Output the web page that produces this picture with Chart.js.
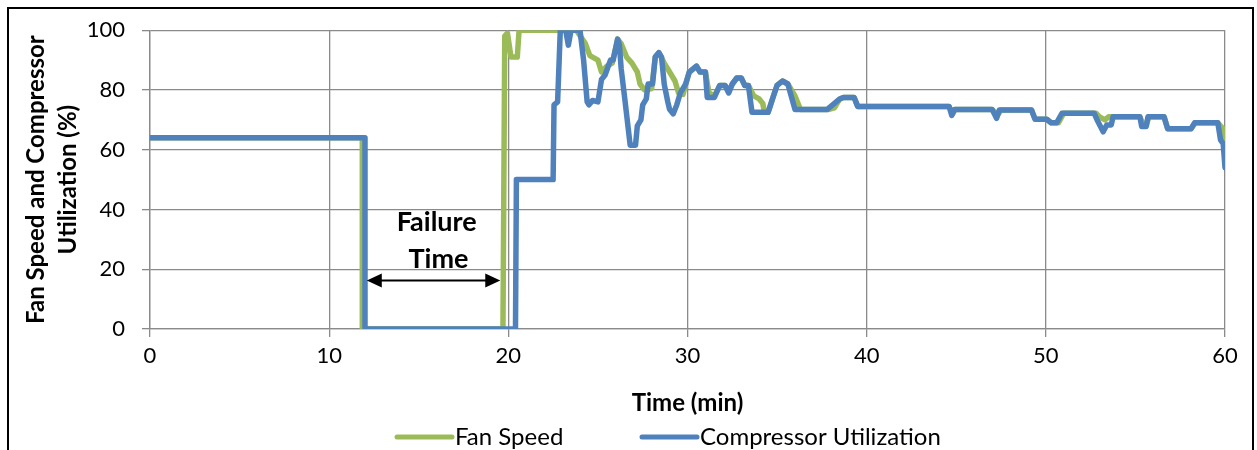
<!DOCTYPE html>
<html>
<head>
<meta charset="utf-8">
<script src="https://cdn.jsdelivr.net/npm/chart.js@4.4.1/dist/chart.umd.min.js"></script>
<style>
  html, body { margin: 0; padding: 0; background: #fff; }
  #wrap { width: 1257px; height: 450px; position: relative; }
</style>
</head>
<body>
<div id="wrap"><canvas id="chart" width="1257" height="450"></canvas></div>
<script>
// time (min) and value (%) pairs
const fanTime = [0, 11.85, 11.85, 19.7, 19.8, 19.95, 20.15, 20.5, 20.6, 23.8, 24.3, 24.55, 25.0, 25.2, 25.5, 25.8, 26.1, 26.3, 26.6, 26.9,
  27.2, 27.35, 27.6, 28.0, 28.2, 28.4, 28.7, 29.0, 29.3, 29.5, 29.75, 29.9, 30.1, 30.5, 30.7, 31.0, 31.2, 31.5, 31.8, 32.1,
  32.3, 32.5, 32.75, 33.0, 33.2, 33.4, 33.7, 34.0, 34.2, 34.3, 34.5, 34.8, 35.0, 35.3, 35.6, 36.0, 36.3, 37.9, 38.2, 38.5,
  38.7, 39.3, 39.5, 44.6, 44.8, 44.95, 47.0, 47.3, 47.5, 49.2, 49.4, 50.05, 50.3, 50.7, 51.0, 52.8, 53.0, 53.3, 53.5, 55.25,
  55.4, 55.6, 55.75, 56.6, 56.8, 58.1, 58.35, 59.6, 59.9, 60];
const fanSpeed = [64, 64, 0, 0, 98, 99, 91, 91, 100, 100, 95.5, 91.5, 90, 86, 88, 89, 97, 95.5, 91, 89,
  86, 82, 80, 80.5, 91, 92.5, 89, 86, 83, 79, 78.5, 82, 86, 88, 86, 86, 79, 78, 81.5, 81.5,
  79.5, 82, 84, 84, 81.5, 81.5, 78, 77, 75.5, 72.5, 72.5, 78, 81.5, 83, 82, 78, 73.5, 73.5, 74, 77,
  77.5, 77.5, 74.5, 74.5, 72, 73.5, 73.5, 71.5, 73.3, 73.3, 70.2, 70.2, 69, 69, 72.2, 72.2, 71, 70, 71, 71,
  69, 68, 71, 71, 67, 67, 69, 69, 67, 63];

const compTime = [0, 12.0, 12.0, 20.4, 20.45, 22.5, 22.55, 22.75, 22.9, 23.2, 23.35, 23.5, 24.0, 24.2, 24.4, 24.5, 24.7, 25.0, 25.2, 25.4,
  25.7, 25.85, 26.1, 26.2, 26.3, 26.5, 26.8, 27.1, 27.2, 27.4, 27.5, 27.7, 27.8, 28.05, 28.2, 28.4, 28.55, 28.7, 28.9, 29.0,
  29.2, 29.4, 29.6, 29.9, 30.1, 30.5, 30.7, 31.0, 31.1, 31.5, 31.8, 32.1, 32.3, 32.5, 32.75, 33.0, 33.2, 33.4, 33.6, 34.5,
  34.8, 35.0, 35.3, 35.6, 36.0, 37.8, 38.1, 38.5, 38.7, 39.3, 39.5, 44.6, 44.75, 44.9, 47.0, 47.25, 47.4, 49.2, 49.4, 50.05,
  50.3, 50.6, 50.9, 52.7, 52.9, 53.2, 53.4, 53.65, 53.75, 55.25, 55.35, 55.6, 55.7, 56.6, 56.8, 58.1, 58.3, 59.6, 59.75, 59.9, 60];
const compUtil = [64, 64, 0, 0, 50, 50, 75, 76, 100, 100, 95, 100, 100, 90, 76, 75, 76.5, 76, 83.5, 85,
  90, 90, 97, 95, 87, 77, 61.5, 61.5, 68, 70, 75, 77, 82, 82, 91, 92.5, 91, 82, 76, 73.5,
  72, 75, 79, 82, 86, 88, 86, 86, 77.5, 77.5, 81.5, 81.5, 79, 82, 84, 84, 81.5, 81.5, 72.5, 72.5,
  78, 81.5, 83, 82, 73.5, 73.5, 75, 77, 77.5, 77.5, 74.5, 74.5, 71.5, 73.5, 73.5, 70.5, 73.3, 73.3, 70.2, 70.2,
  69, 69, 72.2, 72.2, 69.5, 66, 68.3, 68.3, 71, 71, 67.8, 67.8, 71, 71, 67, 67, 69, 69, 63.3, 62, 54];

const seriesNames = ['Fan Speed', 'Compressor Utilization'];
const seriesColors = ['#9BBB59', '#4F81BD'];
const yTitle = ['Fan Speed and Compressor', 'Utilization (%)'];
const xTitle = 'Time (min)';
const failureLabel = ['Failure', 'Time'];

const FONT = 'Lato, "Open Sans", sans-serif';
const GRID = '#8a8a8a';

function toPoints(xs, ys) {
  return xs.map((x, i) => ({ x: x, y: ys[i] }));
}

// arrow + "Failure Time" note, placed in data units
const failurePlugin = {
  id: 'failure',
  afterDatasetsDraw(chart) {
    const x = chart.scales.x, y = chart.scales.y, ctx = chart.ctx;
    ctx.save();
    ctx.fillStyle = '#000';
    ctx.font = 'bold 27px ' + FONT;
    ctx.textAlign = 'center';
    ctx.textBaseline = 'alphabetic';
    ctx.fillText(failureLabel[0], x.getPixelForValue(16.0), y.getPixelForValue(32.8));
    ctx.fillText(failureLabel[1], x.getPixelForValue(16.1), y.getPixelForValue(20.3));

    const x0 = x.getPixelForValue(12.1), x1 = x.getPixelForValue(19.55), ay = y.getPixelForValue(16.2);
    ctx.strokeStyle = '#000';
    ctx.lineWidth = 2;
    ctx.beginPath();
    ctx.moveTo(x0 + 10, ay);
    ctx.lineTo(x1 - 10, ay);
    ctx.stroke();
    ctx.beginPath();
    ctx.moveTo(x0, ay); ctx.lineTo(x0 + 15, ay - 7); ctx.lineTo(x0 + 15, ay + 7); ctx.closePath();
    ctx.moveTo(x1, ay); ctx.lineTo(x1 - 15, ay - 7); ctx.lineTo(x1 - 15, ay + 7); ctx.closePath();
    ctx.fill();
    ctx.restore();
  }
};

// legend drawn as short thick lines like the original, plus outer frame
const frameLegendPlugin = {
  id: 'frameLegend',
  afterDraw(chart) {
    const ctx = chart.ctx;
    ctx.save();
    ctx.strokeStyle = '#000';
    ctx.lineWidth = 2;
    ctx.strokeRect(8, 8, 1245, 460);

    const starts = [397, 642];
    ctx.font = '24px ' + FONT;
    ctx.textBaseline = 'middle';
    ctx.textAlign = 'left';
    chart.data.datasets.forEach((ds, i) => {
      ctx.strokeStyle = ds.borderColor;
      ctx.lineWidth = 5;
      ctx.lineCap = 'round';
      ctx.beginPath();
      ctx.moveTo(starts[i], 437);
      ctx.lineTo(starts[i] + 55, 437);
      ctx.stroke();
      ctx.fillStyle = '#000';
      ctx.fillText(ds.label, starts[i] + 58, 437);
    });
    ctx.restore();
  }
};

new Chart(document.getElementById('chart').getContext('2d'), {
  type: 'line',
  data: {
    datasets: [
      {
        label: seriesNames[0],
        data: toPoints(fanTime, fanSpeed),
        borderColor: seriesColors[0],
        backgroundColor: seriesColors[0],
        borderWidth: 5.5,
        pointRadius: 0,
        tension: 0,
        borderJoinStyle: 'round',
        borderCapStyle: 'round',
        order: 1
      },
      {
        label: seriesNames[1],
        data: toPoints(compTime, compUtil),
        borderColor: seriesColors[1],
        backgroundColor: seriesColors[1],
        borderWidth: 5.5,
        pointRadius: 0,
        tension: 0,
        borderJoinStyle: 'round',
        borderCapStyle: 'round',
        order: 0
      }
    ]
  },
  options: {
    responsive: false,
    animation: false,
    devicePixelRatio: 1,
    layout: { padding: { top: 25, right: 32, left: 10, bottom: 32 } },
    plugins: {
      legend: { display: false },
      tooltip: { enabled: false }
    },
    scales: {
      x: {
        type: 'linear',
        min: 0,
        max: 60,
        afterFit: function(scale) { scale.height = 89; },
        ticks: { stepSize: 10, color: '#000', font: { family: FONT, size: 22 }, padding: 6, maxRotation: 0 },
        grid: { color: GRID, lineWidth: 1.3, tickLength: 8 },
        border: { color: GRID, width: 1.3 },
        title: {
          display: true,
          text: xTitle,
          color: '#000',
          font: { family: FONT, size: 24, weight: 'bold', lineHeight: 1.2 },
          padding: { top: 0, bottom: 0 }
        }
      },
      y: {
        min: 0,
        max: 100,
        afterFit: function(scale) { scale.width = 140; },
        ticks: { stepSize: 20, color: '#000', font: { family: FONT, size: 22 }, padding: 17 },
        grid: { color: GRID, lineWidth: 1.3, tickLength: 8 },
        border: { color: GRID, width: 1.3 },
        title: {
          display: true,
          text: yTitle,
          color: '#000',
          font: { family: FONT, size: 24, weight: 'bold', lineHeight: 1.33 },
          padding: { top: 10, bottom: 0 }
        }
      }
    }
  },
  plugins: [failurePlugin, frameLegendPlugin]
});
</script>
</body>
</html>
